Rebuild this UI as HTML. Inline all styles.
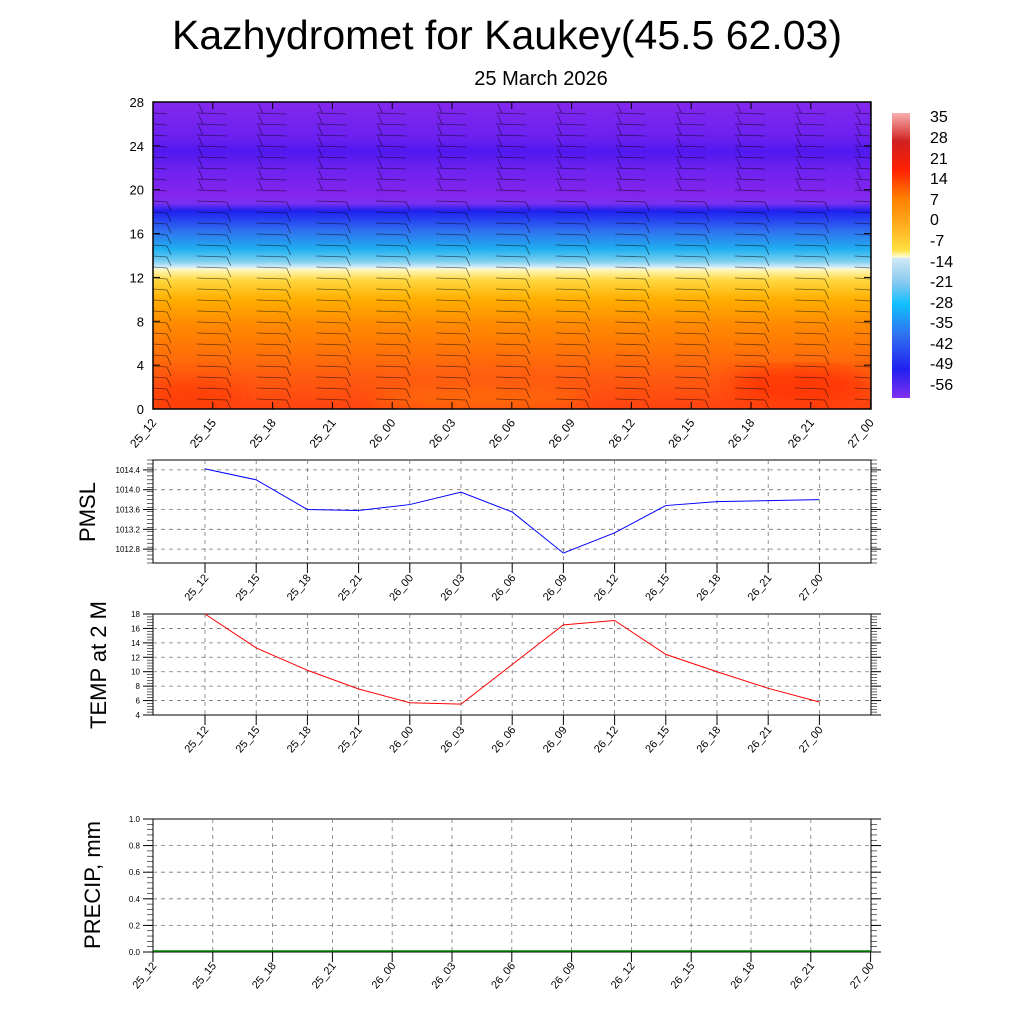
<!DOCTYPE html>
<html><head><style>
body{margin:0;background:#fff;}
svg text{font-family:"Liberation Sans",sans-serif;}
</style></head><body>
<svg id="s" width="1024" height="1024" xmlns="http://www.w3.org/2000/svg">
<defs>
<linearGradient id="g" x1="0" y1="102" x2="0" y2="409" gradientUnits="userSpaceOnUse">
<stop offset="0" stop-color="#8428ee"/>
<stop offset="0.12" stop-color="#6a20f0"/>
<stop offset="0.16" stop-color="#5018f0"/>
<stop offset="0.22" stop-color="#6e22f0"/>
<stop offset="0.30" stop-color="#8424ee"/>
<stop offset="0.33" stop-color="#7a30f0"/>
<stop offset="0.355" stop-color="#2020f0"/>
<stop offset="0.42" stop-color="#3070f0"/>
<stop offset="0.48" stop-color="#20b0f0"/>
<stop offset="0.52" stop-color="#80d0f0"/>
<stop offset="0.54" stop-color="#e0f0f8"/>
<stop offset="0.545" stop-color="#fff8c0"/>
<stop offset="0.58" stop-color="#ffd840"/>
<stop offset="0.64" stop-color="#ffb000"/>
<stop offset="0.72" stop-color="#ff8c00"/>
<stop offset="0.82" stop-color="#ff7008"/>
<stop offset="0.9" stop-color="#ff5a10"/>
<stop offset="1" stop-color="#ff4410"/>
</linearGradient>
<linearGradient id="cb" x1="0" y1="113" x2="0" y2="398" gradientUnits="userSpaceOnUse">
<stop offset="0" stop-color="#f8b0b0"/>
<stop offset="0.1" stop-color="#d02020"/>
<stop offset="0.2" stop-color="#ff2000"/>
<stop offset="0.3" stop-color="#ff8000"/>
<stop offset="0.4" stop-color="#ffb020"/>
<stop offset="0.48" stop-color="#ffe040"/>
<stop offset="0.505" stop-color="#fffbd0"/>
<stop offset="0.51" stop-color="#d0e8f4"/>
<stop offset="0.6" stop-color="#80c8f0"/>
<stop offset="0.67" stop-color="#10c0ff"/>
<stop offset="0.78" stop-color="#3070f0"/>
<stop offset="0.9" stop-color="#2020f0"/>
<stop offset="1" stop-color="#8030f0"/>
</linearGradient>
<filter id="bl"><feGaussianBlur stdDeviation="10"/></filter>
<clipPath id="cp"><rect x="153" y="102" width="718" height="307"/></clipPath>
</defs>
<text x="507" y="49" font-size="41" text-anchor="middle">Kazhydromet for Kaukey(45.5 62.03)</text>
<text x="541" y="85" font-size="20" text-anchor="middle">25 March 2026</text>
<rect x="153" y="102" width="718" height="307" fill="url(#g)"/>
<g clip-path="url(#cp)"><g filter="url(#bl)">
<ellipse cx="800" cy="385" rx="70" ry="18" fill="#ff2a00" opacity="0.7"/>
<ellipse cx="190" cy="395" rx="50" ry="14" fill="#ff3000" opacity="0.6"/>
<ellipse cx="480" cy="400" rx="110" ry="8" fill="#ff9800" opacity="0.6"/>
</g></g>
<g id="barbs" stroke="#000" stroke-width="0.8" opacity="0.55" fill="none"></g>
<rect x="153" y="102" width="718" height="307" fill="none" stroke="#000" stroke-width="1.5"/>
<g id="ax" font-size="13"></g>
<rect x="892" y="113" width="18" height="285" fill="url(#cb)"/>
<g font-size="16">
<text x="930" y="122">35</text><text x="930" y="143">28</text><text x="930" y="164">21</text><text x="930" y="184">14</text><text x="930" y="205">7</text><text x="930" y="225">0</text><text x="930" y="246">-7</text><text x="930" y="267">-14</text><text x="930" y="287">-21</text><text x="930" y="308">-28</text><text x="930" y="328">-35</text><text x="930" y="349">-42</text><text x="930" y="369">-49</text><text x="930" y="390">-56</text>
</g>
<text transform="translate(95,512) rotate(-90)" font-size="22" text-anchor="middle">PMSL</text>
<text transform="translate(106,665) rotate(-90)" font-size="22" text-anchor="middle">TEMP at 2 M</text>
<text transform="translate(100,885) rotate(-90)" font-size="22" text-anchor="middle">PRECIP, mm</text>
</svg>
<script>
const NS="http://www.w3.org/2000/svg";
function el(p,t,a,txt){const e=document.createElementNS(NS,t);for(const k in a)e.setAttribute(k,a[k]);if(txt!==undefined)e.textContent=txt;p.appendChild(e);return e;}
const s=document.getElementById('s'),B=document.getElementById('barbs'),A=document.getElementById('ax');
const labs=["25_12","25_15","25_18","25_21","26_00","26_03","26_06","26_09","26_12","26_15","26_18","26_21","27_00"];
for(let c=0;c<13;c++){const x=153+c*59.8;
 for(let y=113;y<406;y+=11){
  let x1=Math.max(153,x-16),x2=Math.min(871,x+14);
  const upper=y<200;
  el(B,'line',{x1:x1,y1:y,x2:x2,y2:y+1});
  if(upper){if(x1>154)el(B,'line',{x1:x1+6,y1:y,x2:x1+2,y2:y-9});}
  else if(x2<871){el(B,'line',{x1:x2,y1:y+1,x2:x2+4,y2:y+10});}
 }}
for(let v=0;v<=28;v+=4){const y=409-v*307/28;el(A,'text',{x:144,y:y+5,'text-anchor':'end'},v);
 el(A,'line',{x1:153,y1:y,x2:160,y2:y,stroke:'#000'});el(A,'line',{x1:864,y1:y,x2:871,y2:y,stroke:'#000'});}
function xl(x,y,t,fs){el(A,'text',{transform:`translate(${x},${y}) rotate(-50)`,'text-anchor':'end','font-size':fs},t);}
for(let i=0;i<13;i++){const x=153+i*59.8;xl(x+4,423,labs[i],12);
 el(A,'line',{x1:x,y1:409,x2:x,y2:402,stroke:'#000'});el(A,'line',{x1:x,y1:102,x2:x,y2:109,stroke:'#000'});}
function panel(y0,y1,vmin,vmax,step,fmt,xs,vals,col,xlabs,ly){
 el(A,'rect',{x:153,y:y0,width:718,height:y1-y0,fill:'none',stroke:'#000'});
 const Y=v=>y1-(v-vmin)*(y1-y0)/(vmax-vmin);
 for(let v=Math.ceil(vmin/step-1e-6)*step;v<=vmax+1e-6;v+=step){const y=Y(v);
  el(A,'text',{x:140,y:y+3,'text-anchor':'end','font-size':8},fmt(v));
  if(y>y0+1&&y<y1-1)el(A,'line',{x1:153,y1:y,x2:871,y2:y,stroke:'#777','stroke-dasharray':'4,4','stroke-width':0.8});
  el(A,'line',{x1:143,y1:y,x2:153,y2:y,stroke:'#000'});el(A,'line',{x1:871,y1:y,x2:881,y2:y,stroke:'#000'});}
 for(let v=vmin;v<=vmax+1e-6;v+=step/5){const y=Y(v);el(A,'line',{x1:147,y1:y,x2:153,y2:y,stroke:'#000','stroke-width':0.6});el(A,'line',{x1:871,y1:y,x2:877,y2:y,stroke:'#000','stroke-width':0.6});}
 xs.forEach((x,i)=>{if(x>154&&x<870)el(A,'line',{x1:x,y1:y0,x2:x,y2:y1,stroke:'#777','stroke-dasharray':'4,4','stroke-width':0.8});
  el(A,'line',{x1:x,y1:y1,x2:x,y2:y1+10,stroke:'#000'});xl(x+4,ly,xlabs[i],11);});
 if(vals)el(A,'polyline',{points:vals.map((v,i)=>xs[i]+','+Y(v)).join(' '),fill:'none',stroke:col,'stroke-width':1});
}
const xs2=labs.map((_,i)=>205+i*51.2);
panel(460,563,1012.52,1014.6,0.4,v=>v.toFixed(1),xs2,[1014.42,1014.2,1013.6,1013.58,1013.7,1013.95,1013.55,1012.72,1013.13,1013.68,1013.76,1013.78,1013.8],'#00f',labs,578);
panel(614,715,4,18,2,v=>Math.round(v),xs2,[18,13.3,10.2,7.6,5.7,5.5,11,16.5,17.1,12.4,10,7.7,5.8],'#f00',labs,730);
const xs3=labs.map((_,i)=>153+i*59.8);
panel(819,952,0,1,0.2,v=>v.toFixed(1),xs3,null,'',labs,966);
el(A,'line',{x1:153,y1:951,x2:871,y2:951,stroke:'#080','stroke-width':1.5});
</script>
</body></html>
